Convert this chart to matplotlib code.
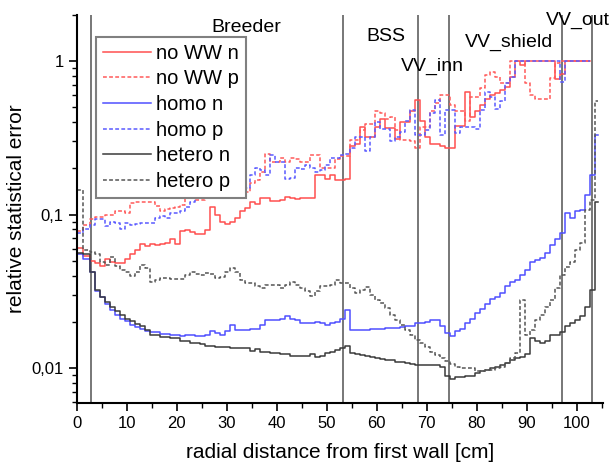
import numpy as np
import matplotlib
matplotlib.use("Agg")
import matplotlib.pyplot as plt
from matplotlib.ticker import MultipleLocator, LogLocator, FuncFormatter

plt.rcParams['font.family'] = ['Liberation Sans', 'DejaVu Sans']

nan = np.nan

# bin edges [cm]: first two bins are wider, then 1 cm bins, last bin is a stub
edges = np.r_[0, 1.33, np.arange(2.67, 104, 1.0), 104.3]

no_ww_n = [0.061, 0.054,
           0.050, 0.048, 0.046, 0.051, 0.049, 0.048, 0.048, 0.051, 0.055, 0.059,
           0.064, 0.062, 0.064, 0.063, 0.064, 0.065, 0.069, 0.064, 0.078, 0.079,
           0.077, 0.075, 0.075, 0.079, 0.112, 0.100, 0.089, 0.087, 0.090, 0.095,
           0.105, 0.110, 0.120, 0.118, 0.128, 0.128, 0.122, 0.122, 0.125, 0.130,
           0.128, 0.126, 0.128, 0.128, 0.128, 0.180, 0.180, 0.170, 0.180, 0.168,
           0.168, 0.170, 0.280, 0.290, 0.370, 0.320, 0.320, 0.370, 0.420, 0.366,
           0.366, 0.310, 0.400, 0.400, 0.470, 0.557, 0.410, 0.320, 0.290, 0.290,
           0.280, 0.270, 0.270, 0.380, 0.380, 0.630, 0.430, 0.470, 0.520, 0.570,
           0.600, 0.620, 0.650, 0.680, 0.790, 1.0, 0.940, 1.0, 1.0, 1.0,
           1.0, 1.0, 1.0, 0.770, 0.830, 1.0, 1.0, 1.0, 1.0, 1.0,
           nan, nan]

no_ww_p = [0.078, 0.085,
           0.094, 0.097, 0.097, 0.100, 0.100, 0.105, 0.105, 0.102, 0.119, 0.121,
           0.121, 0.121, 0.121, 0.113, 0.106, 0.108, 0.110, 0.112, 0.115, 0.130,
           0.130, 0.125, 0.125, 0.130, 0.130, 0.135, 0.145, 0.145, 0.150, 0.165,
           0.165, 0.140, 0.160, 0.168, 0.190, 0.250, 0.220, 0.220, 0.234, 0.220,
           0.234, 0.230, 0.220, 0.220, 0.245, 0.245, 0.200, 0.200, 0.200, 0.230,
           0.240, 0.240, 0.306, 0.306, 0.355, 0.390, 0.390, 0.470, 0.460, 0.420,
           0.430, 0.355, 0.306, 0.306, 0.300, 0.270, 0.370, 0.370, 0.470, 0.530,
           0.600, 0.600, 0.520, 0.470, 0.470, 0.410, 0.580, 0.580, 0.670, 0.810,
           0.850, 0.790, 0.720, 0.720, 1.0, 1.0, 1.0, 0.720, 0.600, 0.570,
           0.570, 0.570, 0.780, 0.970, 1.0, 1.0, 1.0, 1.0, 1.0, 1.0,
           nan, nan]

homo_n = [0.055, 0.051,
          0.042, 0.032, 0.029, 0.026, 0.024, 0.022, 0.021, 0.0201, 0.0191, 0.0185,
          0.018, 0.0174, 0.0171, 0.0171, 0.0167, 0.0167, 0.0165, 0.0165, 0.0162, 0.0165,
          0.0165, 0.0162, 0.0162, 0.0164, 0.0175, 0.017, 0.0164, 0.0173, 0.019, 0.0177,
          0.0178, 0.0178, 0.018, 0.018, 0.019, 0.0206, 0.0206, 0.0206, 0.021, 0.0219,
          0.021, 0.0205, 0.0197, 0.0196, 0.0196, 0.020, 0.0196, 0.019, 0.0196, 0.020,
          0.021, 0.024, 0.0177, 0.0177, 0.0178, 0.0178, 0.0179, 0.018, 0.018, 0.0181,
          0.0182, 0.0183, 0.0184, 0.0187, 0.0187, 0.0196, 0.0196, 0.020, 0.0204, 0.0204,
          0.0187, 0.0168, 0.0162, 0.0173, 0.018, 0.0197, 0.021, 0.0227, 0.0244, 0.026,
          0.0283, 0.029, 0.031, 0.034, 0.0365, 0.0375, 0.0404, 0.0436, 0.0494, 0.0506,
          0.052, 0.056, 0.0634, 0.069, 0.076, 0.103, 0.095, 0.106, 0.107, 0.134,
          0.18, 0.33]

homo_p = [0.076, 0.080,
          0.085, 0.094, 0.094, 0.084, 0.090, 0.088, 0.081, 0.088, 0.086, 0.087,
          0.088, 0.088, 0.088, 0.095, 0.098, 0.095, 0.102, 0.102, 0.106, 0.112,
          0.120, 0.128, 0.130, 0.128, 0.135, 0.135, 0.140, 0.135, 0.180, 0.200,
          0.145, 0.150, 0.180, 0.200, 0.195, 0.180, 0.245, 0.220, 0.220, 0.170,
          0.172, 0.200, 0.198, 0.210, 0.200, 0.190, 0.195, 0.210, 0.235, 0.235,
          0.245, 0.250, 0.270, 0.320, 0.320, 0.260, 0.320, 0.400, 0.360, 0.360,
          0.300, 0.320, 0.345, 0.410, 0.480, 0.330, 0.330, 0.355, 0.460, 0.557,
          0.330, 0.480, 0.480, 0.340, 0.370, 0.370, 0.370, 0.360, 0.480, 0.630,
          0.580, 0.490, 0.550, 0.720, 0.790, 1.0, 1.0, 1.0, 1.0, 1.0,
          1.0, 1.0, 1.0, 1.0, 0.730, 1.0, 1.0, 1.0, 1.0, 1.0,
          nan, nan]

hetero_n = [0.0565, 0.055,
            0.042, 0.0323, 0.029, 0.027, 0.025, 0.0235, 0.0221, 0.021, 0.0201, 0.0195,
            0.0188, 0.0178, 0.0165, 0.0165, 0.016, 0.016, 0.0156, 0.0156, 0.015, 0.015,
            0.0146, 0.0146, 0.0144, 0.014, 0.014, 0.0137, 0.0137, 0.0137, 0.0135, 0.0135,
            0.0135, 0.0135, 0.013, 0.0133, 0.0128, 0.0128, 0.0126, 0.0126, 0.0124, 0.0124,
            0.012, 0.012, 0.012, 0.0119, 0.0124, 0.0118, 0.012, 0.0125, 0.0128, 0.0131,
            0.0135, 0.014, 0.0126, 0.0124, 0.0122, 0.012, 0.0118, 0.0117, 0.0115, 0.0113,
            0.0112, 0.011, 0.0109, 0.0107, 0.0106, 0.0105, 0.0105, 0.0105, 0.0105, 0.0105,
            0.0102, 0.0089, 0.0085, 0.0087, 0.0087, 0.0089, 0.0089, 0.0093, 0.0095, 0.0097,
            0.010, 0.0102, 0.0105, 0.0108, 0.0113, 0.0116, 0.0118, 0.0124, 0.0157, 0.015,
            0.0146, 0.015, 0.0164, 0.0164, 0.0172, 0.0188, 0.0196, 0.0205, 0.0219, 0.025,
            0.0323, 0.12]

hetero_p = [0.145, 0.059,
            0.057, 0.055, 0.049, 0.047, 0.053, 0.046, 0.0436, 0.042, 0.040, 0.042,
            0.047, 0.045, 0.0365, 0.0375, 0.0385, 0.0385, 0.038, 0.038, 0.038, 0.0404,
            0.042, 0.041, 0.0404, 0.0418, 0.041, 0.0385, 0.039, 0.042, 0.045, 0.0425,
            0.0375, 0.0358, 0.0358, 0.034, 0.033, 0.0348, 0.0348, 0.0348, 0.033, 0.0348,
            0.0366, 0.0348, 0.033, 0.0316, 0.0294, 0.0316, 0.034, 0.034, 0.0348, 0.0375,
            0.036, 0.0358, 0.033, 0.031, 0.0323, 0.0336, 0.030, 0.0278, 0.0265, 0.0245,
            0.0222, 0.0206, 0.019, 0.0177, 0.0165, 0.0153, 0.0146, 0.0138, 0.0128, 0.0122,
            0.0116, 0.0111, 0.0106, 0.0102, 0.0100, 0.0100, 0.0100, 0.0095, 0.0095, 0.0097,
            0.0097, 0.010, 0.0102, 0.0107, 0.0116, 0.0126, 0.0278, 0.0164, 0.0177, 0.0206,
            0.0222, 0.0251, 0.0278, 0.0331, 0.0404, 0.0458, 0.049, 0.0588, 0.065, 0.107,
            0.125, 0.55]

# zone boundaries and names
boundaries = [2.8, 53.2, 68.3, 74.4, 97.0, 103.1]
zone_names = ["Breeder", "BSS", "VV_inn", "VV_shield", "VV_out"]
zone_x = [33.9, 61.8, 71.2, 86.4, 100.3]
zone_y = [1.55, 1.36, 0.86, 1.24, 1.72]

series = [
    ("no WW n", no_ww_n, '#ff4f4f', '-'),
    ("no WW p", no_ww_p, '#ff5a5a', (0, (2.5, 1.5))),
    ("homo n", homo_n, '#4f4fff', '-'),
    ("homo p", homo_p, '#5a5aff', (0, (2.5, 1.5))),
    ("hetero n", hetero_n, '#3a3a3a', '-'),
    ("hetero p", hetero_p, '#555555', (0, (2.5, 1.5))),
]

fig = plt.figure(figsize=(6.13, 4.65), dpi=100)
ax = fig.add_axes([76.7 / 613, 62.3 / 465, (603 - 76.7) / 613, (450 - 62.3) / 465])

for b in boundaries:
    ax.axvline(b, color='#606060', lw=1.2, zorder=1)

for label, vals, col, ls in series:
    y = np.append(vals, vals[-1])
    ax.step(edges, y, where='post', color=col, ls=ls, lw=1.1, label=label, zorder=2)

for name, x, y in zip(zone_names, zone_x, zone_y):
    ax.text(x, y, name, ha='center', va='baseline', fontsize=14, clip_on=False)

ax.set_yscale('log')
ax.set_xlim(0, 105.3)
ax.set_ylim(0.00594, 2.0)
ax.xaxis.set_major_locator(MultipleLocator(10))
ax.xaxis.set_minor_locator(MultipleLocator(5))
ax.yaxis.set_major_locator(LogLocator(base=10, numticks=10))
ax.yaxis.set_minor_locator(LogLocator(base=10, subs=np.arange(2, 10), numticks=10))
ax.yaxis.set_major_formatter(FuncFormatter(
    lambda v, p: {1.0: "1", 0.1: "0,1", 0.01: "0,01"}.get(round(v, 4), "")))
ax.yaxis.set_minor_formatter(FuncFormatter(lambda v, p: ""))

for s in ['top', 'right']:
    ax.spines[s].set_visible(False)
for s in ['left', 'bottom']:
    ax.spines[s].set_linewidth(1.5)
ax.tick_params(which='major', direction='out', length=6, width=1.2, labelsize=12)
ax.tick_params(which='minor', direction='out', length=3.5, width=1.0)

ax.set_xlabel("radial distance from first wall [cm]", fontsize=15, labelpad=9)
ax.set_ylabel("relative statistical error", fontsize=15, labelpad=4)

leg = ax.legend(loc='upper left', bbox_to_anchor=(95.7 / 613, 1 - 36.7 / 465),
                bbox_transform=fig.transFigure, borderaxespad=0, fontsize=14.5,
                handlelength=2.4, handletextpad=0.25, labelspacing=0.33,
                borderpad=0.35, fancybox=False, framealpha=1)
leg.get_frame().set_edgecolor('#808080')
leg.get_frame().set_linewidth(1.5)

fig.savefig("out.png", dpi=100)
